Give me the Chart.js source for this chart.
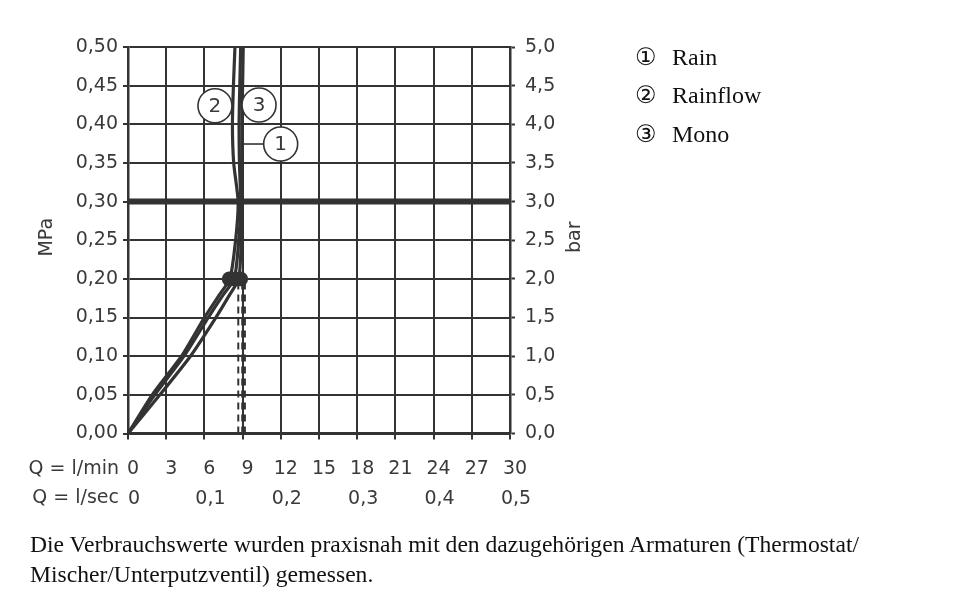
<!DOCTYPE html>
<html>
<head>
<meta charset="utf-8">
<script src="https://cdn.jsdelivr.net/npm/chart.js@4.4.1/dist/chart.umd.min.js"></script>
<style>
body { margin: 0; background: #fff; }
#wrap { position: relative; width: 960px; height: 612px; overflow: hidden; }
#legend { position: absolute; left: 635px; top: 38px; font-family: "Liberation Serif", serif; font-size: 24px; color: #111; }
#legend div { height: 38.3px; line-height: 38.3px; white-space: nowrap; }
#legend .n { font-family: "DejaVu Sans"; font-size: 24px; display: inline-block; width: 37px; }
#note { position: absolute; left: 30px; top: 529px; font-family: "Liberation Serif", serif; font-size: 23.6px; line-height: 30px; color: #111; white-space: nowrap; }
</style>
</head>
<body>
<div id="wrap">
  <canvas id="chart" width="960" height="612"></canvas>
  <div id="legend">
    <div><span class="n">①</span>Rain</div>
    <div><span class="n">②</span>Rainflow</div>
    <div><span class="n">③</span>Mono</div>
  </div>
  <div id="note">
    <div>Die Verbrauchswerte wurden praxisnah mit den dazugehörigen Armaturen (Thermostat/</div>
    <div>Mischer/Unterputzventil) gemessen.</div>
  </div>
</div>
<script>
// pressure steps (MPa) and flow (l/min)
const pressureMPa = [0, 0.05, 0.10, 0.15, 0.18, 0.20, 0.25, 0.30, 0.35, 0.40, 0.45, 0.50];
const rainQ     = [0, 2.1, 4.4, 6.3, 7.5, 8.35, 8.7, 8.85, 8.75, 8.72, 8.78, 8.85];
const rainflowQ = [0, 1.9, 4.2, 6.0, 7.2, 8.0, 8.45, 8.65, 8.3, 8.2, 8.28, 8.4];
const monoQ     = [0, 2.5, 4.9, 6.9, 8.0, 8.7, 8.9, 8.98, 8.95, 8.95, 9.0, 9.05];

const markerP = 0.20;
const markerQ = [7.95, 8.4, 8.85];
const dashQ = [8.66, 8.97, 9.18];
const dashP = [0, 0.20];
const limitP = 0.30;

const qMinTicks = ['0', '3', '6', '9', '12', '15', '18', '21', '24', '27', '30'];
const qSecTicks = ['0', '0,1', '0,2', '0,3', '0,4', '0,5'];
const mpaTicks = ['0,00', '0,05', '0,10', '0,15', '0,20', '0,25', '0,30', '0,35', '0,40', '0,45', '0,50'];
const barTicks = ['0,0', '0,5', '1,0', '1,5', '2,0', '2,5', '3,0', '3,5', '4,0', '4,5', '5,0'];

const LINE = '#333';
const TEXT = '#3a3a3a';
const FONT = '"DejaVu Sans", sans-serif';

// circle tags next to the curves (data coordinates)
const curveTags = [
    { text: '2', q: 6.83, p: 0.424 },
    { text: '3', q: 10.29, p: 0.425 },
    { text: '1', q: 11.99, p: 0.3745, leaderFrom: 8.85 }
];

function toPoints(qs, ps) {
    return qs.map((q, i) => ({ x: q, y: ps[i] }));
}

function curve(qs) {
    return {
        data: toPoints(qs, pressureMPa),
        showLine: true,
        borderColor: LINE,
        borderWidth: 3.2,
        tension: 0.2,
        pointRadius: 0
    };
}

const datasets = [
    {
        data: [{ x: 0, y: limitP }, { x: 30, y: limitP }],
        showLine: true, borderColor: LINE, borderWidth: 6, pointRadius: 0
    },
    ...dashQ.map(q => ({
        data: dashP.map(p => ({ x: q, y: p })),
        showLine: true, borderColor: LINE, borderWidth: 2, borderDash: [7, 5], pointRadius: 0
    })),
    curve(rainQ),
    curve(rainflowQ),
    curve(monoQ),
    {
        data: markerQ.map(q => ({ x: q, y: markerP })),
        showLine: false, pointRadius: 7.4, pointBackgroundColor: LINE, pointBorderWidth: 0
    }
];

const overlay = {
    id: 'overlay',
    afterDraw(chart) {
        const { ctx, chartArea, scales } = chart;
        ctx.save();
        ctx.fillStyle = TEXT;
        ctx.font = '19px ' + FONT;
        ctx.textBaseline = 'middle';
        ctx.textAlign = 'right';
        ctx.fillText('Q = l/min', 119, chartArea.bottom + 35.5);
        ctx.fillText('Q = l/sec', 119, chartArea.bottom + 64.5);

        const midY = (chartArea.top + chartArea.bottom) / 2 - 3;
        [['MPa', 47], ['bar', 575]].forEach(([t, x]) => {
            ctx.save();
            ctx.translate(x, midY);
            ctx.rotate(-Math.PI / 2);
            ctx.textAlign = 'center';
            ctx.fillText(t, 0, 0);
            ctx.restore();
        });

        const r = 17;
        ctx.strokeStyle = LINE;
        ctx.lineWidth = 1.6;
        curveTags.forEach(tag => {
            const cx = scales.x.getPixelForValue(tag.q);
            const cy = scales.y.getPixelForValue(tag.p);
            if (tag.leaderFrom !== undefined) {
                ctx.beginPath();
                ctx.moveTo(scales.x.getPixelForValue(tag.leaderFrom), cy);
                ctx.lineTo(cx - r, cy);
                ctx.stroke();
            }
            ctx.beginPath();
            ctx.arc(cx, cy, r, 0, Math.PI * 2);
            ctx.fillStyle = '#fff';
            ctx.fill();
            ctx.stroke();
            ctx.fillStyle = TEXT;
            ctx.font = '20px ' + FONT;
            ctx.textAlign = 'center';
            ctx.fillText(tag.text, cx, cy + 1);
        });
        ctx.restore();
    }
};

const tickFont = { family: FONT, size: 19 };

new Chart(document.getElementById('chart'), {
    type: 'scatter',
    data: { datasets: datasets },
    plugins: [overlay],
    options: {
        responsive: false,
        animation: false,
        layout: { padding: { top: 47, left: 0, right: 0, bottom: 0 } },
        plugins: { legend: { display: false }, tooltip: { enabled: false } },
        scales: {
            x: {
                type: 'linear', position: 'bottom', min: 0, max: 30, weight: 1,
                afterFit: s => { s.height = 46; },
                ticks: {
                    stepSize: 3, padding: 18, labelOffset: 5, autoSkip: false, maxRotation: 0,
                    color: TEXT, font: tickFont,
                    callback: (v, i) => qMinTicks[i]
                },
                grid: { color: LINE, lineWidth: 2, tickLength: 6, tickWidth: 2 },
                border: { color: LINE, width: 2.5 }
            },
            x2: {
                type: 'linear', position: 'bottom', min: 0, max: 30, weight: 2,
                afterFit: s => { s.height = 132.5; },
                ticks: {
                    stepSize: 6, padding: 0, labelOffset: 6, autoSkip: false, maxRotation: 0,
                    color: TEXT, font: tickFont,
                    callback: (v, i) => qSecTicks[i]
                },
                grid: { display: false },
                border: { display: false }
            },
            y: {
                type: 'linear', position: 'left', min: 0, max: 0.5,
                afterFit: s => { s.width = 128; },
                ticks: {
                    stepSize: 0.05, padding: 5, autoSkip: false,
                    color: TEXT, font: tickFont,
                    callback: (v, i) => mpaTicks[i]
                },
                grid: { color: LINE, lineWidth: 2, tickLength: 5, tickWidth: 2 },
                border: { color: LINE, width: 2.5 }
            },
            y2: {
                type: 'linear', position: 'right', min: 0, max: 5,
                afterFit: s => { s.width = 450; },
                ticks: {
                    stepSize: 0.5, padding: 10, autoSkip: false,
                    color: TEXT, font: tickFont,
                    callback: (v, i) => barTicks[i]
                },
                grid: { drawOnChartArea: false, color: LINE, tickLength: 5, tickWidth: 2 },
                border: { color: LINE, width: 2.5 }
            }
        }
    }
});
</script>
</body>
</html>
